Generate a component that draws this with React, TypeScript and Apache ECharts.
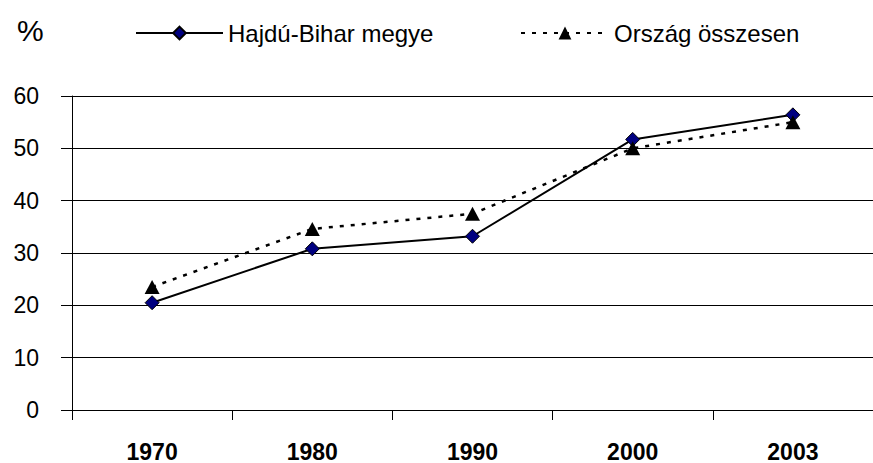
import React, { useEffect, useRef } from "react";
import * as echarts from "echarts";

const categories = ["1970", "1980", "1990", "2000", "2003"];
const hajduBihar = [20.5, 30.8, 33.2, 51.7, 56.4];
const orszag = [23.5, 34.6, 37.5, 50.0, 55.0];
const yTicks = { min: 0, max: 60, interval: 10 };
const seriesNames = ["Hajdú-Bihar megye", "Ország összesen"];

export default function App() {
  const ref = useRef<HTMLDivElement>(null);
  useEffect(() => {
    document.body.style.margin = "0";
    const chart = echarts.init(ref.current!, null, { renderer: "svg" });
    const font = "'Liberation Sans', Arial, sans-serif";
    const legendBase = {
      top: 21,
      padding: 0,
      itemHeight: 16,
      textStyle: { fontSize: 24, color: "#000", fontFamily: font },
    };
    chart.setOption({
      animation: false,
      backgroundColor: "#fff",
      textStyle: { fontFamily: font },
      graphic: [
        {
          type: "text",
          left: 17,
          top: 15,
          style: { text: "%", font: `30px ${font}`, fill: "#000" },
        },
      ],
      legend: [
        { ...legendBase, left: 135, itemWidth: 87, data: [seriesNames[0]] },
        { ...legendBase, left: 520, itemWidth: 88, data: [seriesNames[1]] },
      ],
      grid: { left: 72, top: 96, width: 808, height: 319 },
      xAxis: {
        type: "category",
        data: categories,
        boundaryGap: true,
        axisLine: { lineStyle: { color: "#000", width: 1 } },
        axisTick: { show: true, length: 10, lineStyle: { color: "#000" } },
        axisLabel: {
          fontSize: 23,
          fontWeight: "bold",
          color: "#000",
          margin: 30,
          fontFamily: font,
        },
      },
      yAxis: {
        type: "value",
        min: yTicks.min,
        max: yTicks.max,
        interval: yTicks.interval,
        axisLine: { show: true, lineStyle: { color: "#000", width: 1 } },
        axisTick: { show: true, length: 11, lineStyle: { color: "#000" } },
        splitLine: { show: true, lineStyle: { color: "#000", width: 1 } },
        axisLabel: {
          fontSize: 23,
          color: "#000",
          margin: 33,
          fontFamily: font,
        },
      },
      series: [
        {
          name: seriesNames[0],
          type: "line",
          data: hajduBihar,
          symbol: "diamond",
          symbolSize: [14, 14],
          lineStyle: { color: "#000", width: 2 },
          itemStyle: { color: "#000080", borderColor: "#000", borderWidth: 1 },
          z: 2,
        },
        {
          name: seriesNames[1],
          type: "line",
          data: orszag,
          symbol: "triangle",
          symbolSize: [15, 14],
          lineStyle: { color: "#000", width: 2.5, type: [4, 7] },
          itemStyle: { color: "#000", borderColor: "#000", borderWidth: 0 },
          z: 3,
        },
      ],
    });
    return () => chart.dispose();
  }, []);
  return (
    <div
      ref={ref}
      style={{ position: "absolute", left: 0, top: 0, width: 873, height: 463 }}
    />
  );
}
